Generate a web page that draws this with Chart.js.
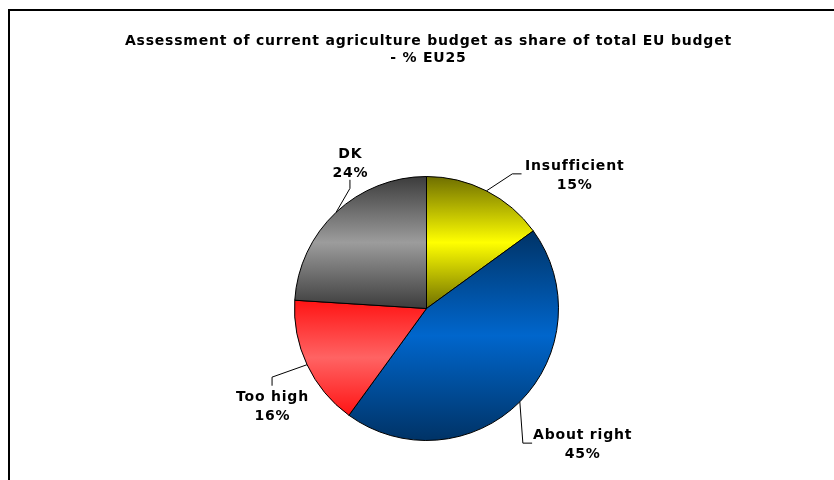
<!DOCTYPE html>
<html>
<head>
<meta charset="utf-8">
<script src="https://cdn.jsdelivr.net/npm/chart.js@4.4.1/dist/chart.umd.min.js"></script>
<style>
  html, body { margin: 0; padding: 0; background: #fff; }
  #wrap { width: 834px; height: 480px; position: relative; }
</style>
</head>
<body>
<div id="wrap"><canvas id="c" width="834" height="480"></canvas></div>
<script>
// Survey answers, clockwise from 12 o'clock
const categories = ['Insufficient', 'About right', 'Too high', 'DK'];
const shares = [15, 45, 16, 24];
const titleLines = ['Assessment of current agriculture budget as share of total EU budget', '- % EU25'];

// Edge / middle colours of each slice's vertical shading
const edgeColors = ['#6f6f00', '#003366', '#ff1414', '#3c3c3c'];
const midColors = ['#ffff00', '#0066cc', '#ff6363', '#9c9c9c'];

// Label placement and leader-line elbows, in units of the pie radius from its centre
const labelPos = [[1.12, -1.005], [1.18, 1.035], [-1.17, 0.745], [-0.58, -1.095]];
const leaderPts = [
  [[0.65, -1.02], [0.72, -1.02]],
  [[0.73, 1.02], [0.80, 1.02]],
  [[-1.17, 0.52], [-1.17, 0.585]],
  [[-0.58, -0.91], [-0.58, -0.975]]
];

const FONT = 'bold 14px "DejaVu Sans", Verdana, sans-serif';
const SPACING = '0.8px';

function pieGeom(chart) {
  const a = chart.chartArea;
  return {
    cx: (a.left + a.right) / 2,
    cy: (a.top + a.bottom) / 2,
    r: Math.min(a.right - a.left, a.bottom - a.top) / 2 - 0.5
  };
}

function sliceAngles(i) {
  const total = shares.reduce((s, v) => s + v, 0);
  let start = 0;
  for (let k = 0; k < i; k++) start += shares[k];
  return [start / total * 2 * Math.PI, (start + shares[i]) / total * 2 * Math.PI];
}

// Vertical dark-light-dark gradient across each slice's own height
function sliceFill(ctx) {
  const chart = ctx.chart;
  const i = ctx.dataIndex;
  if (!chart.chartArea) return midColors[i];
  const g = pieGeom(chart);
  const [t0, t1] = sliceAngles(i);
  const ys = [g.cy, g.cy - g.r * Math.cos(t0), g.cy - g.r * Math.cos(t1)];
  if (t0 <= 0 || t1 >= 2 * Math.PI) ys.push(g.cy - g.r);
  if (t0 <= Math.PI && t1 >= Math.PI) ys.push(g.cy + g.r);
  const y0 = Math.min(...ys), y1 = Math.max(...ys);
  const grad = chart.ctx.createLinearGradient(0, y0, 0, y1);
  grad.addColorStop(0, edgeColors[i]);
  grad.addColorStop(0.5, midColors[i]);
  grad.addColorStop(1, edgeColors[i]);
  return grad;
}

// Centred text that accounts for the trailing letter spacing
function centredText(c, text, x, y) {
  const w = c.measureText(text).width;
  c.textAlign = 'left';
  c.fillText(text, x - (w - 0.8) / 2, y);
}

const decor = {
  id: 'decor',
  beforeDraw(chart) {
    const c = chart.ctx;
    c.save();
    c.fillStyle = '#fff';
    c.fillRect(0, 0, chart.width, chart.height);
    // frame
    c.strokeStyle = '#000';
    c.lineWidth = 2;
    c.beginPath();
    c.moveTo(9, chart.height);
    c.lineTo(9, 10);
    c.lineTo(chart.width, 10);
    c.stroke();
    // title
    c.fillStyle = '#000';
    c.font = FONT;
    c.letterSpacing = SPACING;
    c.textBaseline = 'middle';
    titleLines.forEach((t, k) => centredText(c, t, 428, 41.5 + k * 17));
    c.restore();
  },
  afterDatasetsDraw(chart) {
    const c = chart.ctx;
    const g = pieGeom(chart);
    c.save();
    c.strokeStyle = '#000';
    c.lineWidth = 1;
    c.fillStyle = '#000';
    c.font = FONT;
    c.letterSpacing = SPACING;
    c.textBaseline = 'middle';
    categories.forEach((name, i) => {
      const [t0, t1] = sliceAngles(i);
      const tm = (t0 + t1) / 2;
      c.beginPath();
      c.moveTo(g.cx + g.r * Math.sin(tm), g.cy - g.r * Math.cos(tm));
      leaderPts[i].forEach(p => c.lineTo(g.cx + p[0] * g.r, g.cy + p[1] * g.r));
      c.stroke();
      const lx = g.cx + labelPos[i][0] * g.r;
      const ly = g.cy + labelPos[i][1] * g.r;
      centredText(c, name, lx, ly - 9.5);
      centredText(c, shares[i] + '%', lx, ly + 9.5);
    });
    c.restore();
  }
};

new Chart(document.getElementById('c'), {
  type: 'pie',
  data: {
    labels: categories,
    datasets: [{
      data: shares,
      backgroundColor: sliceFill,
      borderColor: '#000',
      borderWidth: 1
    }]
  },
  options: {
    responsive: false,
    animation: false,
    layout: { padding: { left: 294, right: 275, top: 176, bottom: 39 } },
    plugins: {
      legend: { display: false },
      title: { display: false },
      tooltip: { enabled: false }
    }
  },
  plugins: [decor]
});
</script>
</body>
</html>
